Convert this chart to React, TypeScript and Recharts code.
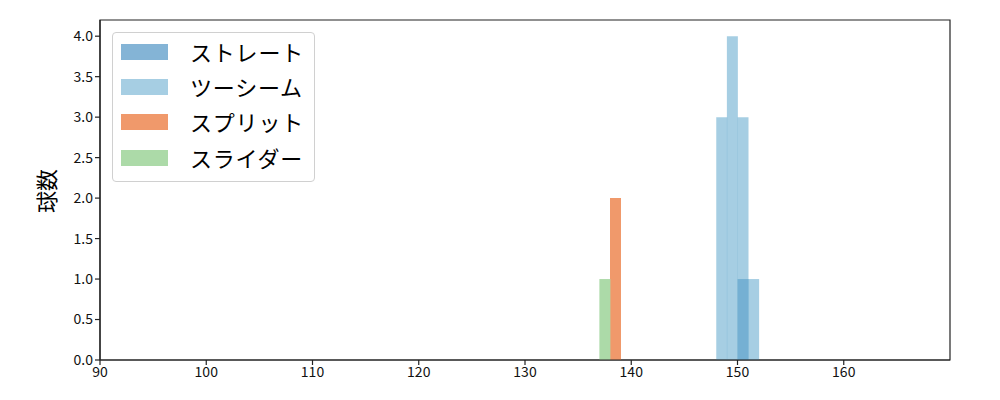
import React from 'react';
import { ComposedChart, Bar, XAxis, YAxis, ReferenceArea } from 'recharts';

// bin left edges (width 1 km/h) and counts per pitch type
const straightBins = [150];
const straightCounts = [1];
const twoSeamBins = [148, 149, 150, 151];
const twoSeamCounts = [3, 4, 3, 1];
const splitBins = [138];
const splitCounts = [2];
const sliderBins = [137];
const sliderCounts = [1];

const xTicks = [90, 100, 110, 120, 130, 140, 150, 160];
const yTicks = [0, 0.5, 1, 1.5, 2, 2.5, 3, 3.5, 4];

const FONT = '"Noto Sans CJK JP", "Noto Sans", sans-serif';
const AXIS = '#222';

const series = [
  { key: 'straight', name: 'ストレート', bins: straightBins, counts: straightCounts, fill: '#1f77b4', opacity: 0.55, swatch: '#84b4d6' },
  { key: 'twoSeam', name: 'ツーシーム', bins: twoSeamBins, counts: twoSeamCounts, fill: '#6badd0', opacity: 0.6, swatch: '#a6cee3' },
  { key: 'split', name: 'スプリット', bins: splitBins, counts: splitCounts, fill: '#f0996b', opacity: 1, swatch: '#f0996b' },
  { key: 'slider', name: 'スライダー', bins: sliderBins, counts: sliderCounts, fill: '#acdaa8', opacity: 1, swatch: '#acdaa8' },
];

// one row per 1-wide bin across the whole axis
const rows: Record<string, number | null>[] = [];
for (let edge = 90; edge < 170; edge++) {
  const row: Record<string, number | null> = { edge };
  series.forEach((s) => {
    const i = s.bins.indexOf(edge);
    row[s.key] = i >= 0 ? s.counts[i] : null;
  });
  rows.push(row);
}

const LegendBox = () => (
  <div
    style={{
      position: 'absolute',
      left: 112,
      top: 32,
      width: 203,
      height: 150,
      boxSizing: 'border-box',
      border: '1px solid #d0d0d0',
      borderRadius: 4,
      background: 'rgba(255,255,255,0.8)',
      padding: '1px 0 0 8px',
      fontFamily: FONT,
    }}
  >
    {series.map((s) => (
      <div key={s.key} style={{ display: 'flex', alignItems: 'center', height: 35.4 }}>
        <div style={{ width: 47, height: 16, background: s.swatch, marginRight: 22 }} />
        <span style={{ fontSize: 22, color: '#000', lineHeight: 1, letterSpacing: 0.8, marginTop: -2 }}>{s.name}</span>
      </div>
    ))}
  </div>
);

export default function App() {
  return (
    <div style={{ position: 'absolute', left: 0, top: 0, width: 1000, height: 400, background: '#fff' }}>
      <ComposedChart
        width={1000}
        height={400}
        data={rows}
        margin={{ top: 20, right: 50, bottom: 10, left: 0 }}
        barCategoryGap={0}
        barGap={0}
      >
        {series.map((s) => (
          <XAxis key={s.key} xAxisId={s.key} dataKey="edge" type="category" hide />
        ))}
        <XAxis
          xAxisId="num"
          dataKey="edge"
          type="number"
          domain={[90, 170]}
          ticks={xTicks}
          allowDataOverflow
          height={30}
          stroke={AXIS}
          strokeWidth={1.2}
          tickSize={5}
          tick={{ fill: '#111', fontSize: 14, fontFamily: FONT }}
        />
        <YAxis
          type="number"
          domain={[0, 4.2]}
          ticks={yTicks}
          allowDataOverflow
          width={100}
          stroke={AXIS}
          strokeWidth={1.2}
          tickSize={5}
          tickFormatter={(v: number) => v.toFixed(1)}
          tick={{ fill: '#111', fontSize: 14, fontFamily: FONT }}
          label={() => (
            <text
              x={45}
              y={191}
              transform="rotate(-90 45 191)"
              textAnchor="middle"
              dominantBaseline="central"
              fontSize={22}
              fontFamily={FONT}
              fill="#000"
            >
              球数
            </text>
          )}
        />
        {series.map((s) => (
          <Bar
            key={s.key}
            xAxisId={s.key}
            dataKey={s.key}
            name={s.name}
            fill={s.fill}
            fillOpacity={s.opacity}
            isAnimationActive={false}
          />
        ))}
        <ReferenceArea
          xAxisId="num"
          x1={90}
          x2={170}
          y1={0}
          y2={4.2}
          fill="none"
          stroke={AXIS}
          strokeWidth={1.2}
          ifOverflow="visible"
        />
      </ComposedChart>
      <LegendBox />
    </div>
  );
}
